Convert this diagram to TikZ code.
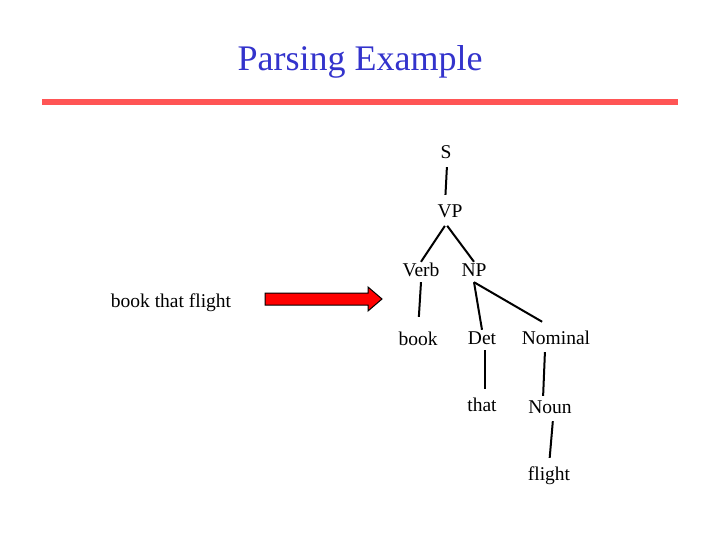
\documentclass[tikz,border=0pt]{standalone}
\usepackage{fontspec}
\setmainfont{Liberation Serif}
\usetikzlibrary{positioning}
\definecolor{ptitle}{HTML}{3333CC}
\definecolor{prule}{HTML}{FF5555}
\definecolor{parrow}{HTML}{FF0000}
\tikzset{
  cat/.style={font=\fontsize{19.5}{22}\selectfont,text height=12pt,text depth=4pt,
              inner sep=2pt},
  br/.style={line width=2pt,black},
  ttl/.style={font=\fontsize{36}{42}\selectfont,text=ptitle},
}

\begin{document}
\begin{tikzpicture}[x=1pt,y=-1pt]
  \useasboundingbox (0,0) rectangle (720,540);
  \node[ttl] (title) at (360,62) {Parsing Example};
  \draw[prule,line width=6pt] (42,102) -- (678,102);
  % the parse tree
  \node[cat] (s) at (446,155) {S};
  \node[cat] (vp) at (450,214) {VP};
  \node[cat] (verb) at (421,272) {Verb};
  \node[cat] (np) at (474,272) {NP};
  \node[cat] (book) at (418,341) {book};
  \node[cat] (det) at (482,340) {Det};
  \node[cat] (nominal) at (556,340) {Nominal};
  \node[cat] (that) at (482,407) {that};
  \node[cat] (noun) at (550,409) {Noun};
  \node[cat] (flight) at (549,476) {flight};
  \draw[br,shorten <=2pt,shorten >=9pt] ([xshift=1pt]s.south) -- ([xshift=-5pt]vp.north);
  \draw[br,shorten <=2pt] ([xshift=-4pt]vp.south) -- (verb.north);
  \draw[br,shorten <=2pt] ([xshift=-4pt]vp.south) -- (np.north);
  \draw[br,shorten >=14pt] (verb.south) -- (book.north);
  \draw[br] (np.south) -- (det.north);
  \draw[br,shorten >=16pt] (np.south) -- (nominal.north);
  \draw[br,shorten >=8pt] ([xshift=3pt]det.south) -- ([xshift=3pt]that.north);
  \draw[br,shorten <=2pt,shorten >=3pt] ([xshift=-11pt]nominal.south) -- ([xshift=-7pt]noun.north);
  \draw[br,shorten <=2pt,shorten >=8pt] ([xshift=3pt]noun.south) -- (flight.north);
  % sentence and block arrow
  \node[cat] (sent) at (171,303) {book that flight};
  \filldraw[fill=parrow,draw=black,line width=1pt]
    (265,293) -- (368,293) -- (368,287) -- (382,299) -- (368,311) -- (368,305)
    -- (265,305) -- cycle;
\end{tikzpicture}
\end{document}
